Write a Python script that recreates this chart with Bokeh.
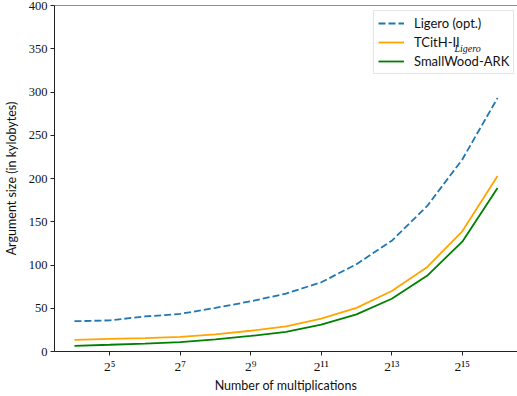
from bokeh.plotting import figure
from bokeh.models import Range1d, FixedTicker, Span, Legend, LegendItem, Label
from bokeh.embed import file_html
from bokeh.resources import INLINE

# ---- data ----
multiplications = [2 ** k for k in range(4, 17)]
ligero_opt = [35, 36, 40.5, 43.5, 50.5, 58, 67, 80, 101, 128, 168, 222, 293]
tcith_ligero = [13.5, 14.5, 15.5, 16.8, 19.8, 24, 29, 38, 50.5, 70, 97.5, 139, 203]
smallwood_ark = [6.5, 7.8, 9.2, 10.8, 14, 18, 22.8, 31, 43, 61, 87.5, 127, 189]

x_ticks = [32, 128, 512, 2048, 8192, 32768]
x_tick_labels = ["2⁵", "2⁷", "2⁹", "2¹¹", "2¹³", "2¹⁵"]
y_ticks = [0, 50, 100, 150, 200, 250, 300, 350, 400]
series_names = ["Ligero (opt.)", "TCitH-II", "SmallWood-ARK"]
subscript_text = "Ligero"

SANS = "Lato"
SERIF = "Liberation Serif"

p = figure(
    width=517, height=396,
    x_axis_type="log",
    x_range=Range1d(2 ** 3.434, 2 ** 16.566),
    y_range=Range1d(0, 400),
    output_backend="svg", toolbar_location=None,
    min_border_left=53, min_border_right=0, min_border_top=5, min_border_bottom=45,
)
p.outline_line_color = None
p.xgrid.visible = False
p.ygrid.visible = False
p.background_fill_color = "white"
p.border_fill_color = "white"

r1 = p.line(multiplications, ligero_opt, line_color="#1f77b4", line_width=1.8, line_dash="7 3")
r2 = p.line(multiplications, tcith_ligero, line_color="#FFA500", line_width=1.8)
r3 = p.line(multiplications, smallwood_ark, line_color="#008000", line_width=1.8)

# axes
p.xaxis.ticker = FixedTicker(ticks=x_ticks, minor_ticks=[])
p.xaxis.major_label_overrides = {t: l for t, l in zip(x_ticks, x_tick_labels)}
p.yaxis.ticker = FixedTicker(ticks=y_ticks, minor_ticks=[])
for ax in (p.xaxis, p.yaxis):
    ax.axis_line_color = "#222222"
    ax.axis_line_width = 1
    ax.major_tick_line_color = "#222222"
    ax.major_tick_in = 0
    ax.major_tick_out = 4
    ax.minor_tick_line_color = None
    ax.major_label_text_font = SERIF
    ax.major_label_text_font_size = "12.5px"
    ax.major_label_text_color = "#111111"
    ax.major_label_standoff = 3
    ax.axis_label_text_font = SANS
    ax.axis_label_text_font_size = "12.5px"
    ax.axis_label_text_font_style = "normal"
    ax.axis_label_text_color = "#111111"
p.xaxis.major_label_text_font_size = "13.5px"
p.xaxis.axis_label = "Number of multiplications"
p.yaxis.axis_label = "Argument size (in kylobytes)"
p.xaxis.axis_label_standoff = 1
p.yaxis.axis_label_standoff = 7

# top spine
p.add_layout(Span(location=400, dimension="width", line_color="#222222", line_width=1))

legend = Legend(
    items=[LegendItem(label=series_names[0], renderers=[r1]),
           LegendItem(label=series_names[1], renderers=[r2]),
           LegendItem(label=series_names[2], renderers=[r3])],
    location=(319, 277), padding=4, spacing=3, margin=0,
    glyph_width=26, glyph_height=16, label_height=16, label_standoff=10,
    label_text_font=SANS, label_text_font_size="13px", label_text_color="#111111",
    border_line_color="#cccccc", border_line_width=1, background_fill_alpha=0,
)
p.add_layout(legend)

p.add_layout(Label(x=400, y=303.5, x_units="screen", y_units="screen", text=subscript_text,
                   text_font=SERIF, text_font_style="italic", text_font_size="10px",
                   text_baseline="middle", text_align="left", text_color="#111111",
                   level="overlay"))

open("out.html", "w").write(file_html(p, INLINE))
